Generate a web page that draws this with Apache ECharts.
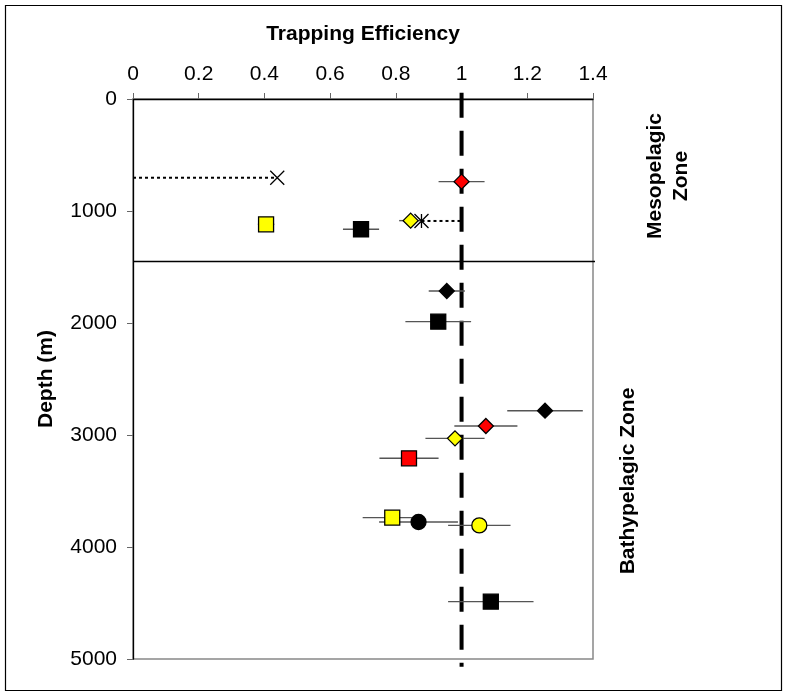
<!DOCTYPE html>
<html>
<head>
<meta charset="utf-8">
<script src="https://cdn.jsdelivr.net/npm/echarts@6/dist/echarts.min.js"></script>
<style>
  html, body { margin: 0; padding: 0; background: #fff; }
  #chart { width: 787px; height: 696px; }
</style>
</head>
<body>
<div id="chart"></div>
<script>
// trapping efficiency vs depth, [efficiency, depth]
var xTicks = [0, 0.2, 0.4, 0.6, 0.8, 1, 1.2, 1.4];
var yTicks = [0, 1000, 2000, 3000, 4000, 5000];

var blackDiamonds = [[0.955, 1714], [1.254, 2783]];
var blackDiamondErr = [0.055, 0.115];
var redDiamonds = [[1.0, 738], [1.074, 2920]];
var redDiamondErr = [0.07, 0.096];
var yellowDiamonds = [[0.845, 1086], [0.98, 3030]];
var yellowDiamondErr = [0.035, 0.09];
var blackSquares = [[0.694, 1163], [0.929, 1988], [1.089, 4488]];
var blackSquareErr = [0.055, 0.1, 0.13];
var redSquares = [[0.84, 3208]];
var redSquareErr = [0.09];
var yellowSquares = [[0.405, 1119], [0.789, 3738]];
var yellowSquareErr = [0.025, 0.09];
var blackCircles = [[0.869, 3777]];
var blackCircleErr = [0.12];
var yellowCircles = [[1.054, 3807]];
var yellowCircleErr = [0.095];
var crosses = [[0.439, 703]];
var asterisks = [[0.878, 1089]];

// dotted ranges and guide lines
var crossRange = [[0, 703], [0.439, 703]];
var asteriskRange = [[0.878, 1089], [1.0, 1089]];
var unityLine = [[1, -55], [1, 5070]];
var zoneBoundary = [[0, 1450], [1.41, 1450]];

var chart = echarts.init(document.getElementById('chart'));
var font = 'Arial, "Liberation Sans", sans-serif';

// error bar rows: [x, y, halfWidth]
function errRows(pts, errs){
  var rows = [];
  for (var i = 0; i < pts.length; i++){
    rows.push([pts[i][0], pts[i][1], errs[i]]);
  }
  return rows;
}
var errData = [].concat(
  errRows(blackDiamonds, blackDiamondErr),
  errRows(redDiamonds, redDiamondErr),
  errRows(yellowDiamonds, yellowDiamondErr),
  errRows(blackSquares, blackSquareErr),
  errRows(redSquares, redSquareErr),
  errRows(yellowSquares, yellowSquareErr),
  errRows(blackCircles, blackCircleErr),
  errRows(yellowCircles, yellowCircleErr)
);

function pointSeries(data, symbol, size, fill){
  return {
    type: 'scatter',
    data: data,
    symbol: symbol,
    symbolSize: size,
    z: 5,
    itemStyle: {color: fill, borderColor: '#000', borderWidth: 1.3, opacity: 1}
  };
}

function guide(data, width, type, color){
  return {
    type: 'line',
    data: data,
    symbol: 'none',
    clip: false,
    silent: true,
    z: 3,
    lineStyle: {color: color || '#000', width: width, type: type}
  };
}

var option = {
  animation: false,
  backgroundColor: '#fff',
  grid: {left: 133, top: 99, width: 460, height: 560, show: true, borderColor: '#888', borderWidth: 1.5},
  xAxis: {
    type: 'value', position: 'top', min: xTicks[0], max: xTicks[xTicks.length - 1], interval: 0.2,
    name: 'Trapping Efficiency', nameLocation: 'middle', nameGap: 54,
    nameTextStyle: {fontFamily: font, fontSize: 21, fontWeight: 'bold', color: '#000'},
    axisLine: {lineStyle: {color: '#000', width: 1.3}},
    axisTick: {inside: false, length: 6, lineStyle: {color: '#666'}},
    axisLabel: {fontFamily: font, fontSize: 21, color: '#000', margin: 14},
    splitLine: {show: false}
  },
  yAxis: {
    type: 'value', inverse: true, min: yTicks[0], max: yTicks[yTicks.length - 1], interval: 1000,
    name: 'Depth (m)', nameLocation: 'middle', nameGap: 76,
    nameTextStyle: {fontFamily: font, fontSize: 21, fontWeight: 'bold', color: '#000'},
    axisLine: {lineStyle: {color: '#000', width: 1.3}},
    axisTick: {inside: false, length: 6, lineStyle: {color: '#666'}},
    axisLabel: {fontFamily: font, fontSize: 21, color: '#000', margin: 16, formatter: function(v){ return String(v); }},
    splitLine: {show: false}
  },
  graphic: [
    {type: 'rect', shape: {x: 5.5, y: 5.5, width: 776, height: 685}, style: {fill: 'none', stroke: '#000', lineWidth: 1.2}, silent: true},
    {type: 'text', x: 668, y: 176, rotation: Math.PI / 2,
      style: {text: 'Mesopelagic\nZone', fontFamily: font, fontSize: 21, fontWeight: 'bold', fill: '#000', align: 'center', verticalAlign: 'middle', lineHeight: 26}},
    {type: 'text', x: 628, y: 481, rotation: Math.PI / 2,
      style: {text: 'Bathypelagic Zone', fontFamily: font, fontSize: 21, fontWeight: 'bold', fill: '#000', align: 'center', verticalAlign: 'middle'}}
  ],
  series: [
    guide(zoneBoundary, 1.5, 'solid'),
    guide(unityLine, 4, [25, 13]),
    guide(crossRange, 2, [3, 3]),
    guide(asteriskRange, 2, [3, 3]),
    {
      // horizontal error bars
      type: 'custom',
      data: errData,
      z: 4,
      silent: true,
      renderItem: function(params, api){
        var a = api.coord([api.value(0) - api.value(2), api.value(1)]);
        var b = api.coord([api.value(0) + api.value(2), api.value(1)]);
        return {type: 'line', shape: {x1: a[0], y1: a[1], x2: b[0], y2: b[1]}, style: {stroke: '#555', lineWidth: 1.4}};
      }
    },
    pointSeries(blackDiamonds, 'diamond', [15, 15], '#000'),
    pointSeries(redDiamonds, 'diamond', [15, 15], '#ff0000'),
    pointSeries(yellowDiamonds, 'diamond', [15, 15], '#ffff00'),
    pointSeries(blackSquares, 'rect', [15, 15], '#000'),
    pointSeries(redSquares, 'rect', [15, 15], '#ff0000'),
    pointSeries(yellowSquares, 'rect', [15, 15], '#ffff00'),
    pointSeries(blackCircles, 'circle', 15, '#000'),
    pointSeries(yellowCircles, 'circle', 15, '#ffff00'),
    pointSeries(crosses, 'path://M0,0L10,10M10,0L0,10', 14, 'none'),
    pointSeries(asterisks, 'path://M0,0L10,10M10,0L0,10M5,0L5,10', 14, 'none')
  ]
};
chart.setOption(option);
</script>
</body>
</html>
